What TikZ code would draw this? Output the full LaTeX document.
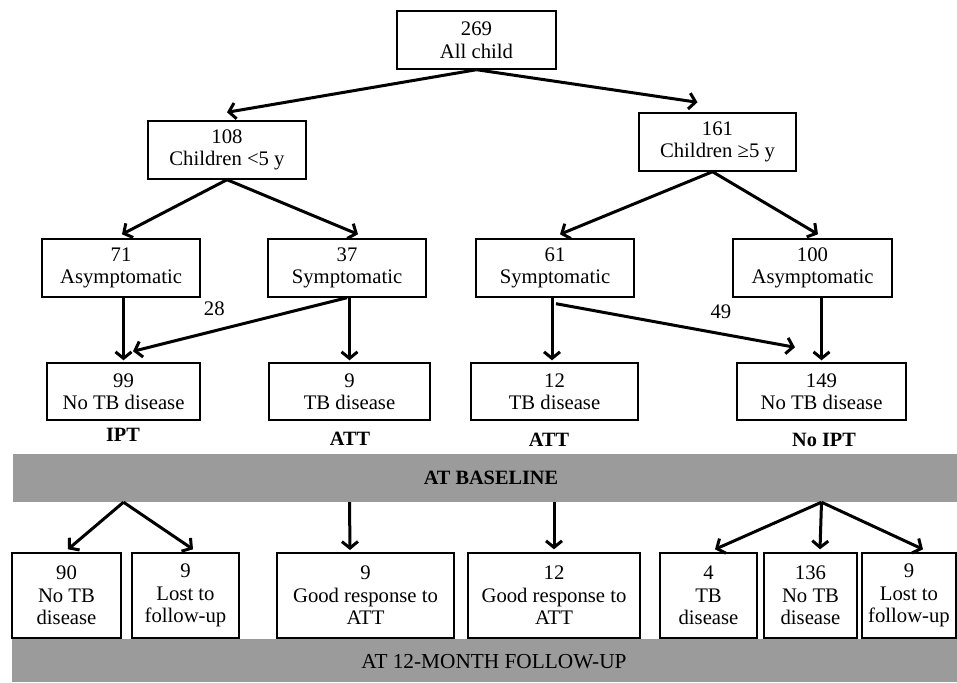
\documentclass[tikz,border=0pt]{standalone}
\usepackage{fontspec}
\setmainfont{Liberation Serif}
\usetikzlibrary{arrows.meta,calc}
\definecolor{bandgray}{RGB}{155,155,155}
\begin{document}
\begin{tikzpicture}[x=1pt,y=-1pt,
  box/.style={draw,line width=1.4pt,align=center,inner sep=0pt,font=\fontsize{20.7}{22.5}\selectfont},
  arr/.style={line width=3pt,-{Straight Barb[length=6.5pt,width=16pt]}},
  lbl/.style={font=\fontsize{20.7}{22.5}\selectfont,inner sep=0pt},
  blbl/.style={font=\bfseries\fontsize{20.3}{22}\selectfont,inner sep=0pt},
  band/.style={fill=bandgray,draw=none,inner sep=0pt}]
\useasboundingbox (0,0) rectangle (957,682);
% bands
\node[band,minimum width=944pt,minimum height=48pt] (base) at (485,478) {};
\node[blbl] (basetxt) at (491,478) {AT BASELINE};
\node[band,minimum width=945pt,minimum height=43pt] (fol) at (484.5,660.5) {};
\node[lbl,font=\fontsize{21.3}{23}\selectfont] (foltxt) at (494,662) {AT 12-MONTH FOLLOW-UP};
% level 0-1
\node[box,minimum width=159pt,minimum height=58pt] (all) at (476.5,40) {269\\All child};
\node[box,minimum width=158pt,minimum height=58pt] (c5) at (227,150) {108\\Children <5 y};
\node[box,minimum width=157pt,minimum height=58pt] (c5p) at (717.5,142) {161\\Children ≥5 y};
% level 2
\node[box,minimum width=158pt,minimum height=58pt] (asym71) at (121,268) {71\\Asymptomatic};
\node[box,minimum width=158pt,minimum height=58pt] (sym37) at (347,268) {37\\Symptomatic};
\node[box,minimum width=158pt,minimum height=58pt] (sym61) at (555,268) {61\\Symptomatic};
\node[box,minimum width=159pt,minimum height=58pt] (asym100) at (812.5,268) {100\\Asymptomatic};
% level 3
\node[box,minimum width=153pt,minimum height=57pt] (n99) at (123.5,391.5) {99\\No TB disease};
\node[box,minimum width=161pt,minimum height=57pt] (tb9) at (349.5,391.5) {9\\TB disease};
\node[box,minimum width=167pt,minimum height=57pt] (tb12) at (554.5,391.5) {12\\TB disease};
\node[box,minimum width=169pt,minimum height=57pt] (n149) at (821.5,391.5) {149\\No TB disease};
% treatment labels
\node[blbl] (ipt) at (123,435) {IPT};
\node[blbl] (att1) at (350,439) {ATT};
\node[blbl] (att2) at (549,440) {ATT};
\node[blbl] (noipt) at (824,440) {No IPT};
% follow-up boxes
\node[box,minimum width=109pt,minimum height=85pt] (f90) at (66.5,595.5) {90\\No TB\\disease};
\node[box,minimum width=107pt,minimum height=85pt] (f9a) at (185.5,595.5) {9\\Lost to\\follow-up};
\node[box,minimum width=177pt,minimum height=85pt] (g9) at (365.5,595.5) {9\\Good response to\\ATT};
\node[box,minimum width=172pt,minimum height=85pt] (g12) at (554,595.5) {12\\Good response to\\ATT};
\node[box,minimum width=97pt,minimum height=85pt] (f4) at (708.5,595.5) {4\\TB\\disease};
\node[box,minimum width=93pt,minimum height=85pt] (f136) at (810.5,595.5) {136\\No TB\\disease};
\node[box,minimum width=94pt,minimum height=85pt] (f9b) at (909,595.5) {9\\Lost to\\follow-up};
% arrow end coordinates
\coordinate (e9) at (350,550);
% arrows top
\draw[arr] (all.south) -- ([yshift=8pt]c5.north);
\draw[arr] (all.south) -- ([xshift=-20pt,yshift=10pt]c5p.north);
\draw[arr] (c5.south) -- ([xshift=1pt,yshift=4pt]asym71.north);
\draw[arr] (c5.south) -- ([xshift=11pt,yshift=4pt]sym37.north);
\draw[arr] ([xshift=-5pt]c5p.south) -- ([xshift=5pt,yshift=4pt]sym61.north);
\draw[arr] ([xshift=-5pt]c5p.south) -- ([xshift=5.5pt,yshift=4pt]asym100.north);
% to level 3
\draw[arr] (asym71.south -| n99.north) -- ([yshift=2pt]n99.north);
\draw[arr] (sym37.south) -- node[lbl,pos=0.62,above=14pt] (l28) {28} ([xshift=9.5pt,yshift=11pt]n99.north);
\draw[arr] (sym37.south -| tb9.north) -- ([yshift=2pt]tb9.north);
\draw[arr] ([xshift=-3pt]sym61.south) -- ([xshift=-2.5pt,yshift=2pt]tb12.north);
\draw[arr] ([xshift=1pt,yshift=-6pt]sym61.south) -- node[lbl,pos=0.69,above=14pt] (l49) {49} ([xshift=-26.5pt,yshift=15pt]n149.north);
\draw[arr] (asym100.south -| n149.north) -- ([yshift=2pt]n149.north);
% follow-up arrows
\draw[arr] (base.south -| n99.north) -- ([xshift=1.5pt,yshift=3pt]f90.north);
\draw[arr] (base.south -| n99.north) -- ([xshift=7.5pt,yshift=3pt]f9a.north);
\draw[arr] (base.south -| tb9.north) -- (e9);
\draw[arr] (base.south -| g12.north) -- ([yshift=3pt]g12.north);
\draw[arr] (base.south -| n149.north) -- ([xshift=6.5pt,yshift=3pt]f4.north);
\draw[arr] (base.south -| n149.north) -- ([xshift=9.5pt,yshift=3pt]f136.north);
\draw[arr] (base.south -| n149.north) -- ([xshift=14pt,yshift=3pt]f9b.north);
\end{tikzpicture}
\end{document}
